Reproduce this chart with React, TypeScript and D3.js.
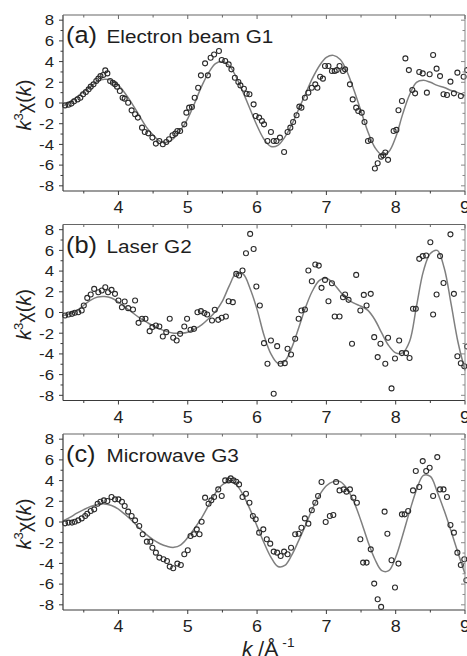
import React from 'react';
import * as d3 from 'd3';

// k grid of the fitted curves (Å^-1)
const fitK = [
  3.2, 3.3, 3.4, 3.5, 3.6, 3.7, 3.8, 3.9, 4.0, 4.1,
  4.2, 4.3, 4.4, 4.5, 4.6, 4.7, 4.8, 4.9, 5.0, 5.1,
  5.2, 5.3, 5.4, 5.5, 5.6, 5.7, 5.8, 5.9, 6.0, 6.1,
  6.2, 6.3, 6.4, 6.5, 6.6, 6.7, 6.8, 6.9, 7.0, 7.1,
  7.2, 7.3, 7.4, 7.5, 7.6, 7.7, 7.8, 7.9, 8.0, 8.1,
  8.2, 8.3, 8.4, 8.5, 8.6, 8.7, 8.8, 8.9, 9.0,
];

const fitA = [
  -0.3, 0.1, 0.6, 1.1, 1.6, 2.1, 2.3, 2.2, 1.7, 0.9,
  -0.1, -1.2, -2.3, -3.1, -3.7, -3.8, -3.4, -2.6, -1.5, 0.0,
  1.6, 2.9, 3.8, 4.0, 3.6, 2.5, 1.0, -0.6, -2.2, -3.5,
  -4.2, -4.1, -3.3, -2.1, -0.6, 0.9, 2.4, 3.6, 4.4, 4.6,
  4.2, 3.0, 1.2, -0.8, -2.8, -4.3, -5.0, -4.7, -3.3, -1.1,
  0.8, 2.0, 2.2, 2.0, 1.7, 1.5, 1.2, 1.0, 0.7,
];

const fitB = [
  -0.3, -0.1, 0.2, 0.7, 1.2, 1.5, 1.55, 1.4, 1.0, 0.5,
  0.0, -0.5, -0.9, -1.3, -1.6, -1.85, -2.0, -2.0, -1.9, -1.6,
  -1.2, -0.6, 0.1, 1.1, 2.6, 3.8, 3.7, 2.3, 0.3, -2.2,
  -4.0, -4.9, -4.7, -3.4, -1.5, 0.5, 2.1, 3.1, 3.3, 2.8,
  2.0, 1.3, 0.9, 0.6, 0.2, -0.7, -2.0, -3.2, -3.9, -3.9,
  -2.8, 0.6, 4.0, 5.7, 6.0, 4.3, 0.8, -2.9, -5.6,
];

const fitC = [
  0.1, 0.45, 0.85, 1.2, 1.5, 1.7, 1.75, 1.6, 1.25, 0.7,
  0.1, -0.6, -1.2, -1.7, -2.1, -2.35, -2.45, -2.2, -1.5, -0.6,
  0.4, 1.6, 2.8, 3.6, 3.9, 3.6, 2.6, 1.2, -0.4, -2.0,
  -3.4, -4.3, -4.2, -3.2, -1.8, -0.3, 1.3, 2.6, 3.5, 3.9,
  3.9, 3.2, 1.9, 0.1, -1.9, -3.6, -4.7, -4.7, -3.4, -1.3,
  1.0, 3.1, 4.5, 4.4, 2.9, 1.1, -0.9, -3.0, -5.0,
];

// measured points [k, k^3 chi(k)]
const pointsA: [number, number][] = [
  [3.23, -0.23], [3.28, -0.16], [3.32, -0.06], [3.36, 0.16], [3.41, 0.35], [3.45, 0.51], [3.49, 0.84],
  [3.53, 1.06], [3.57, 1.32], [3.6, 1.58], [3.64, 1.8], [3.68, 2.12], [3.71, 2.35], [3.74, 2.6],
  [3.78, 2.7], [3.81, 3.15], [3.84, 2.86], [3.88, 2.12], [3.92, 1.96], [3.95, 1.8], [3.98, 1.58],
  [4.02, 1.16], [4.06, 0.51], [4.09, 0.42], [4.14, 0.03], [4.19, -0.71], [4.24, -1.09], [4.28, -1.41],
  [4.34, -2.38], [4.38, -2.8], [4.43, -2.93], [4.49, -3.34], [4.54, -3.92], [4.59, -3.67], [4.64, -3.99],
  [4.69, -3.76], [4.73, -3.5], [4.78, -3.12], [4.82, -2.96], [4.85, -2.7], [4.89, -2.7], [4.95, -2.06],
  [4.98, -0.93], [5.02, -0.45], [5.06, -0.39], [5.1, 0.51], [5.15, 1.48], [5.19, 2.67], [5.25, 3.83],
  [5.29, 2.67], [5.33, 4.37], [5.38, 4.69], [5.45, 5.02], [5.49, 4.15], [5.54, 4.05], [5.59, 3.73],
  [5.63, 3.25], [5.68, 2.44], [5.73, 2.03], [5.76, 1.7], [5.81, 1.38], [5.85, 0.9], [5.89, 0.84],
  [5.95, -0.13], [5.98, -1.25], [6.03, -1.41], [6.07, -1.74], [6.1, -2.06], [6.15, -3.67], [6.2, -2.8],
  [6.24, -3.67], [6.28, -3.67], [6.33, -3.34], [6.39, -4.73], [6.44, -2.8], [6.48, -2.38], [6.52, -1.83],
  [6.57, -1.19], [6.61, -0.35], [6.64, -0.45], [6.69, 0.51], [6.74, 1.0], [6.79, 1.48], [6.84, 1.8],
  [6.87, 1.48], [6.91, 2.54], [6.95, 2.35], [6.98, 3.57], [7.03, 3.57], [7.08, 3.09], [7.12, 3.09],
  [7.15, 3.18], [7.19, 3.57], [7.24, 3.09], [7.27, 3.25], [7.34, 1.8], [7.38, 0.35], [7.43, -0.45],
  [7.46, -0.77], [7.51, -0.93], [7.55, -1.83], [7.6, -3.67], [7.64, -3.57], [7.7, -6.33], [7.74, -5.82],
  [7.79, -5.18], [7.82, -5.04], [7.85, -4.78], [7.89, -5.49], [7.97, -2.7], [8.01, -2.6], [8.04, -0.7],
  [8.09, 0.19], [8.14, 4.31], [8.19, 3.18], [8.24, 1.25], [8.28, 0.93], [8.34, 2.99], [8.39, 2.86],
  [8.45, 1.0], [8.49, 2.77], [8.54, 4.63], [8.59, 3.32], [8.64, 2.6], [8.69, 0.84], [8.74, 0.77],
  [8.79, 2.06], [8.84, 0.93], [8.89, 2.93], [8.94, 0.67], [8.98, 2.54], [9.03, 3.18],
];

const pointsB: [number, number][] = [
  [3.23, -0.29], [3.28, -0.19], [3.33, -0.13], [3.37, -0.03], [3.42, 0.03], [3.47, 0.19], [3.5, 0.68],
  [3.55, 1.41], [3.6, 1.74], [3.65, 2.28], [3.71, 1.96], [3.76, 2.12], [3.81, 2.44], [3.85, 1.96],
  [3.9, 2.19], [3.95, 1.8], [4.0, 1.16], [4.05, 0.51], [4.09, 1.06], [4.14, 0.42], [4.21, 0.29],
  [4.24, 1.16], [4.29, -1.0], [4.34, -0.61], [4.39, -0.61], [4.45, -1.8], [4.49, -1.41], [4.54, -1.25],
  [4.59, -1.35], [4.64, -2.32], [4.69, -1.9], [4.74, -0.61], [4.79, -2.44], [4.84, -2.7], [4.89, -2.06],
  [4.95, -1.35], [4.99, -0.61], [5.04, -1.67], [5.09, -1.58], [5.14, 0.03], [5.19, 0.13], [5.24, -0.06],
  [5.28, -0.19], [5.35, -0.77], [5.39, 0.26], [5.44, -0.71], [5.49, -0.51], [5.55, -0.39], [5.59, 1.09],
  [5.65, 1.0], [5.7, 3.73], [5.74, 3.57], [5.79, 4.05], [5.84, 5.72], [5.9, 7.59], [5.95, 6.14],
  [5.99, 2.51], [6.04, 0.68], [6.1, -2.96], [6.15, -4.95], [6.2, -2.7], [6.24, -7.85], [6.29, -3.25],
  [6.34, -4.95], [6.4, -4.89], [6.44, -3.5], [6.49, -4.05], [6.55, -2.54], [6.6, -0.61], [6.64, 0.19],
  [6.69, 0.29], [6.74, 4.05], [6.79, 3.02], [6.84, 4.63], [6.89, 4.53], [6.93, 2.38], [6.98, 3.15],
  [7.03, 1.09], [7.08, 2.83], [7.12, -0.39], [7.19, -0.39], [7.24, 1.48], [7.27, 1.74], [7.32, 1.22],
  [7.37, -3.02], [7.43, 3.63], [7.49, 0.19], [7.54, 1.7], [7.58, 0.68], [7.64, 1.8], [7.69, -2.38],
  [7.74, -4.31], [7.78, -3.02], [7.85, -4.95], [7.89, -2.44], [7.94, -7.33], [7.99, -4.45], [8.05, -2.7],
  [8.09, -3.92], [8.15, -3.92], [8.2, -4.4], [8.25, 0.36], [8.29, 0.36], [8.34, 5.18], [8.39, 5.45],
  [8.44, 5.5], [8.5, 6.78], [8.54, -0.2], [8.59, 1.74], [8.64, 5.45], [8.69, 2.85], [8.79, 7.55],
  [8.84, 1.8], [8.89, -4.22], [8.94, -4.9], [8.99, -5.19], [9.03, -3.28],
];

const pointsC: [number, number][] = [
  [3.23, -0.13], [3.28, -0.06], [3.33, -0.06], [3.37, 0.03], [3.42, 0.16], [3.47, 0.35], [3.52, 0.58],
  [3.55, 0.8], [3.6, 1.06], [3.65, 1.22], [3.7, 1.77], [3.74, 1.96], [3.79, 2.09], [3.84, 2.03],
  [3.9, 2.41], [3.95, 2.19], [4.0, 2.19], [4.05, 1.96], [4.09, 1.54], [4.14, 1.0], [4.19, 0.58],
  [4.24, 0.16], [4.3, -0.39], [4.35, -1.19], [4.41, -1.9], [4.46, -1.9], [4.49, -2.48], [4.54, -2.96],
  [4.59, -3.44], [4.65, -3.6], [4.7, -3.76], [4.74, -4.31], [4.79, -4.47], [4.85, -4.02], [4.9, -4.15],
  [4.95, -3.12], [5.0, -2.73], [5.04, -1.35], [5.09, -1.19], [5.13, -0.71], [5.17, -1.19], [5.2, 0.03],
  [5.25, 2.35], [5.3, 1.77], [5.34, 2.09], [5.38, 2.41], [5.44, 3.15], [5.49, 2.51], [5.54, 4.02],
  [5.59, 4.02], [5.62, 4.21], [5.66, 4.02], [5.7, 3.89], [5.74, 3.63], [5.79, 2.41], [5.84, 2.73],
  [5.89, 1.86], [5.94, 0.58], [5.98, 0.26], [6.03, -1.03], [6.09, -0.71], [6.14, -1.67], [6.19, -2.09],
  [6.24, -2.86], [6.29, -2.96], [6.34, -3.28], [6.39, -2.86], [6.44, -3.12], [6.49, -2.48], [6.55, -1.19],
  [6.6, -1.13], [6.64, -0.55], [6.69, 0.35], [6.74, -0.16], [6.79, 1.13], [6.84, 1.86], [6.88, 2.51],
  [6.93, 3.86], [6.99, 0.0], [7.05, 0.58], [7.1, 0.68], [7.14, 3.86], [7.19, 3.05], [7.25, 3.15],
  [7.29, 2.93], [7.34, 3.15], [7.39, 2.35], [7.44, 1.86], [7.49, -1.67], [7.53, -3.92], [7.58, -3.92],
  [7.64, -2.64], [7.69, -5.95], [7.74, -7.46], [7.79, -8.2], [7.84, 1.0], [7.88, -1.13], [7.94, -3.7],
  [7.99, -6.33], [8.04, -4.02], [8.09, 0.74], [8.13, 0.74], [8.18, 1.06], [8.25, 3.05], [8.29, 4.92],
  [8.34, 3.38], [8.39, 5.88], [8.44, 4.92], [8.49, 5.24], [8.54, 2.51], [8.6, 6.27], [8.64, 3.15],
  [8.69, 3.15], [8.74, 2.41], [8.79, -0.29], [8.84, -1.03], [8.89, -2.96], [8.94, -4.15], [8.99, -3.6],
  [9.02, -5.63],
];

const xTicks = [4, 5, 6, 7, 8, 9];
const xMinor = [3.5, 4.5, 5.5, 6.5, 7.5, 8.5];
const yTicks = [-8, -6, -4, -2, 0, 2, 4, 6, 8];
const yMinor = [-7, -5, -3, -1, 1, 3, 5, 7];

const panelTags = ['(a)', '(b)', '(c)'];
const panelNames = ['Electron beam G1', 'Laser G2', 'Microwave G3'];
const panelFits = [fitA, fitB, fitC];
const panelPoints = [pointsA, pointsB, pointsC];

const W = 467;
const H = 656;
const left = 63;
const right = 465;
const tops = [15, 224.5, 434];
const ph = 176;
const SX = 1.12;
const FONT = "Arial, 'Liberation Sans', sans-serif";
const AX = '#3a3a3a';

const x = d3.scaleLinear().domain([3.2, 9.0]).range([left, right]);

function Panel({ i }: { i: number }) {
  const top = tops[i];
  const bottom = top + ph;
  const y = d3.scaleLinear().domain([-8.5, 8.5]).range([bottom, top]);
  const line = d3
    .line<number>()
    .x((_, j) => x(fitK[j]))
    .y((d) => y(d))
    .curve(d3.curveCatmullRom.alpha(0.5));

  return (
    <g>
      <path d={line(panelFits[i]) || ''} fill="none" stroke="#7f7f7f" strokeWidth={1.5} />
      {panelPoints[i].map(([k, v], j) => (
        <circle key={j} cx={x(k)} cy={y(v)} r={2.5} fill="none" stroke="#2b2b2b" strokeWidth={1.1} />
      ))}

      {/* frame */}
      <line x1={left} x2={left} y1={top} y2={bottom} stroke={AX} strokeWidth={1.2} />
      <line x1={left} x2={right} y1={bottom} y2={bottom} stroke={AX} strokeWidth={1.2} />
      <line x1={left} x2={right} y1={top} y2={top} stroke="#666" strokeWidth={1.1} />
      <line x1={right} x2={right} y1={top} y2={bottom} stroke="#888" strokeWidth={1} />

      {/* x ticks */}
      {xTicks.map((t) => (
        <g key={'xt' + t}>
          <line x1={x(t)} x2={x(t)} y1={bottom} y2={bottom + 4} stroke={AX} strokeWidth={1} />
          <line x1={x(t)} x2={x(t)} y1={top} y2={top + 4} stroke="#666" strokeWidth={1} />
          <text
            transform={`translate(${x(t)},${bottom + 22}) scale(${SX},1)`}
            textAnchor="middle"
            fontSize={16}
            fill="#222"
          >
            {t}
          </text>
        </g>
      ))}
      {xMinor.map((t) => (
        <g key={'xm' + t}>
          <line x1={x(t)} x2={x(t)} y1={bottom} y2={bottom + 2.5} stroke={AX} strokeWidth={1} />
          <line x1={x(t)} x2={x(t)} y1={top} y2={top + 2.5} stroke="#666" strokeWidth={1} />
        </g>
      ))}

      {/* y ticks */}
      {yTicks.map((t) => (
        <g key={'yt' + t}>
          <line x1={left - 4} x2={left} y1={y(t)} y2={y(t)} stroke={AX} strokeWidth={1} />
          <line x1={right - 4} x2={right} y1={y(t)} y2={y(t)} stroke="#888" strokeWidth={1} />
          <text
            transform={`translate(54,${y(t) + 5.3}) scale(${SX},1)`}
            textAnchor="end"
            fontSize={15}
            fill="#222"
          >
            {t < 0 ? '-' + Math.abs(t) : t}
          </text>
        </g>
      ))}
      {yMinor.map((t) => (
        <g key={'ym' + t}>
          <line x1={left - 2.5} x2={left} y1={y(t)} y2={y(t)} stroke={AX} strokeWidth={1} />
          <line x1={right - 2.5} x2={right} y1={y(t)} y2={y(t)} stroke="#888" strokeWidth={1} />
        </g>
      ))}

      {/* y title */}
      <text
        transform={`translate(31,${top + ph / 2 + 2}) rotate(-90)`}
        textAnchor="middle"
        fontSize={20}
        fill="#222"
      >
        <tspan fontStyle="italic">k</tspan>
        <tspan fontSize={13} dy={-8}>3</tspan>
        <tspan dy={8}>χ(</tspan>
        <tspan fontStyle="italic">k</tspan>
        <tspan>)</tspan>
      </text>

      {/* panel label */}
      <text transform={`translate(66,${top + 28}) scale(1.08,1)`} fontSize={23.5} fill="#1e1e1e">
        {panelTags[i]}
      </text>
      <text transform={`translate(106.5,${top + 28}) scale(${SX},1)`} fontSize={18.5} fill="#1e1e1e">
        {panelNames[i]}
      </text>
    </g>
  );
}

export default function App() {
  return (
    <svg
      width={W}
      height={H}
      viewBox={`0 0 ${W} ${H}`}
      style={{ position: 'absolute', left: 0, top: 0, background: '#fff', fontFamily: FONT }}
    >
      <rect x={0} y={0} width={W} height={H} fill="#fff" />
      {[0, 1, 2].map((i) => (
        <Panel key={i} i={i} />
      ))}
      <text transform={`translate(242,656) scale(1.05,1)`} fontSize={20} fill="#222">
        <tspan fontStyle="italic">k</tspan>
        <tspan> /Å</tspan>
        <tspan fontSize={13} dx={4} dy={-9}>-1</tspan>
      </text>
    </svg>
  );
}
